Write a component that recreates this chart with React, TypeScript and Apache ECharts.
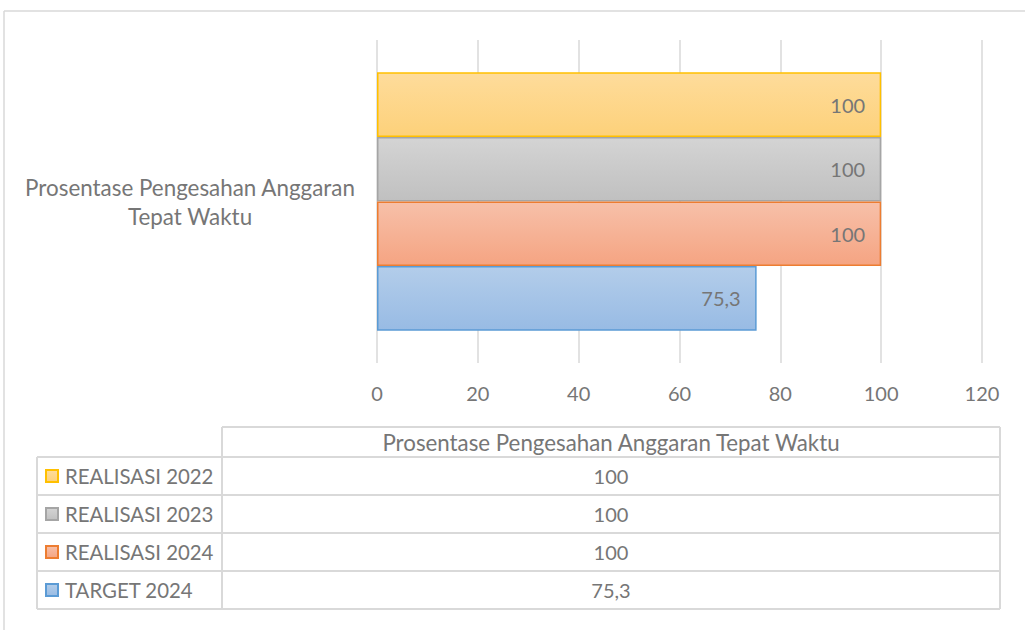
import React, { useEffect, useRef } from "react";
import * as echarts from "echarts";

const categories = ["Prosentase Pengesahan Anggaran Tepat Waktu"];
const seriesNames = ["REALISASI 2022", "REALISASI 2023", "REALISASI 2024", "TARGET 2024"];
const seriesValues = [100, 100, 100, 75.3];
const xTicks = [0, 20, 40, 60, 80, 100, 120];

const fills = [
  ["#FEDC9B", "#FDD17A"],
  ["#D4D4D4", "#C0C0C0"],
  ["#F7C0A9", "#F5A482"],
  ["#B3CDEA", "#98BBE4"],
];
const borders = ["#FFC000", "#A5A5A5", "#ED7D31", "#5B9BD5"];

const FONT = "Lato";
const TXT = "#767676";
const LINE = "#D9D9D9";

const fmt = (v: number) => String(v).replace(".", ",");

export default function App() {
  const ref = useRef<HTMLDivElement>(null);
  useEffect(() => {
    document.body.style.margin = "0";
    const chart = echarts.init(ref.current!, null, { renderer: "svg" });

    const rowTop = [457, 495, 533, 571];
    const rowH = 38;
    const tL = 37, tM = 222, tR = 1000, hTop = 427, tBot = 609;
    const lineStyle = { stroke: LINE, lineWidth: 2 };
    const g: any[] = [];
    // outer frame
    g.push({ type: "line", shape: { x1: 4, y1: 11, x2: 1100, y2: 11 }, style: { stroke: LINE, lineWidth: 1.5 } });
    g.push({ type: "line", shape: { x1: 4, y1: 11, x2: 4, y2: 700 }, style: { stroke: LINE, lineWidth: 1.5 } });
    // table lines
    g.push({ type: "line", shape: { x1: tM, y1: hTop, x2: tR, y2: hTop }, style: lineStyle });
    g.push({ type: "line", shape: { x1: tM, y1: hTop, x2: tM, y2: tBot }, style: lineStyle });
    g.push({ type: "line", shape: { x1: tR, y1: hTop, x2: tR, y2: tBot }, style: lineStyle });
    g.push({ type: "line", shape: { x1: tL, y1: rowTop[0], x2: tL, y2: tBot }, style: lineStyle });
    rowTop.forEach((y) => {
      g.push({ type: "line", shape: { x1: tL, y1: y, x2: tR, y2: y }, style: lineStyle });
    });
    g.push({ type: "line", shape: { x1: tL, y1: tBot, x2: tR, y2: tBot }, style: lineStyle });
    // header text
    g.push({
      type: "text", x: (tM + tR) / 2, y: (hTop + rowTop[0]) / 2,
      style: { text: categories[0], fill: TXT, font: `22.3px ${FONT}`, align: "center", verticalAlign: "middle" },
    });
    seriesNames.forEach((name, i) => {
      const cy = rowTop[i] + rowH / 2;
      g.push({
        type: "rect", shape: { x: 46, y: cy - 6, width: 12, height: 12 },
        style: {
          fill: new echarts.graphic.LinearGradient(0, 0, 0, 1, [
            { offset: 0, color: fills[i][0] }, { offset: 1, color: fills[i][1] },
          ]),
          stroke: borders[i], lineWidth: 2,
        },
      });
      g.push({
        type: "text", x: 65, y: cy,
        style: { text: name, fill: TXT, font: `20.4px ${FONT}`, align: "left", verticalAlign: "middle" },
      });
      g.push({
        type: "text", x: (tM + tR) / 2, y: cy,
        style: { text: fmt(seriesValues[i]), fill: TXT, font: `20px ${FONT}`, align: "center", verticalAlign: "middle" },
      });
    });

    chart.setOption({
      animation: false,
      backgroundColor: "#ffffff",
      grid: { left: 377, right: 43, top: 40, height: 323, containLabel: false },
      xAxis: {
        type: "value", min: 0, max: xTicks[xTicks.length - 1], interval: 20,
        axisLine: { show: false }, axisTick: { show: false },
        splitLine: { lineStyle: { color: LINE, width: 1.5 } },
        axisLabel: { color: TXT, fontFamily: FONT, fontSize: 20, margin: 20 },
      },
      yAxis: {
        type: "category", data: categories, inverse: true,
        axisLine: { show: false }, axisTick: { show: false },
        axisLabel: {
          color: TXT, fontFamily: FONT, fontSize: 22.4, lineHeight: 29, align: "center", margin: 187,
          formatter: (v: string) => v.replace(" Tepat", "\nTepat"),
        },
      },
      series: seriesNames.map((name, i) => ({
        name, type: "bar", data: [seriesValues[i]],
        barGap: "0%", barCategoryGap: "20%",
        itemStyle: {
          color: new echarts.graphic.LinearGradient(0, 0, 0, 1, [
            { offset: 0, color: fills[i][0] }, { offset: 1, color: fills[i][1] },
          ]),
          borderColor: borders[i], borderWidth: 1.5,
        },
        label: {
          show: true, position: "insideRight", distance: 16, color: TXT,
          fontFamily: FONT, fontSize: 20, formatter: (p: any) => fmt(p.value),
        },
      })),
      graphic: g,
    });
    return () => chart.dispose();
  }, []);
  return <div ref={ref} style={{ width: 1025, height: 630 }} />;
}
